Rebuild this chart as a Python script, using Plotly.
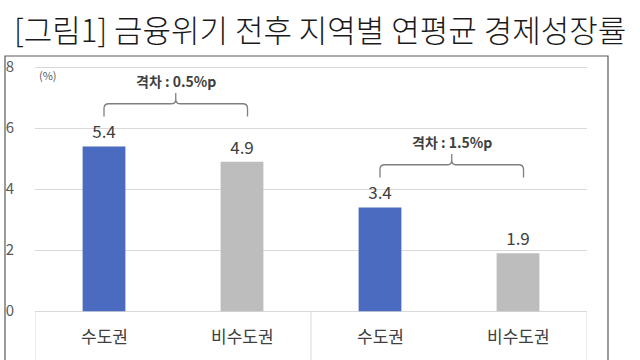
import plotly.graph_objects as go

# ---- data ----
categories = ["수도권", "비수도권", "수도권", "비수도권"]
values = [5.4, 4.9, 3.4, 1.9]
bar_colors = ["#4A6BBF", "#BDBDBD", "#4A6BBF", "#BDBDBD"]
gap_labels = ["격차 : 0.5%p", "격차 : 1.5%p"]
gap_pairs = [(0, 1), (2, 3)]
y_ticks = [0, 2, 4, 6, 8]
title_text = "[그림1] 금융위기 전후 지역별 연평균 경제성장률"
unit_text = "(%)"

FONT = "Noto Sans CJK KR, Noto Sans, sans-serif"
W, H = 640, 360
ML, MR, MT, MB = 35, 53, 58, 0
Y_RANGE = [-1.6, 8.3]
X_RANGE = [-0.5, 3.5]

def px_to_paper_x(px):
    return (px - ML) / (W - ML - MR)

def px_to_paper_y(py):
    return (H - MB - py) / (H - MT - MB)

xs = list(range(len(categories)))

fig = go.Figure()
fig.add_trace(go.Bar(
    x=xs, y=values, width=0.31,
    marker=dict(color=bar_colors, line=dict(width=0)),
    text=[f"{v:.1f}" for v in values], textposition="outside",
    textfont=dict(family=FONT, size=17, color="#404040"),
    cliponaxis=False, hoverinfo="skip",
))

shapes = []
# table lines below the zero line
for xv in [-0.5, 1.5, 3.5]:
    shapes.append(dict(type="line", xref="x", yref="y", x0=xv, x1=xv, y0=Y_RANGE[0], y1=0,
                       line=dict(color="#D9D9D9", width=1)))
# outer border box
shapes.append(dict(type="rect", xref="paper", yref="paper",
                   x0=px_to_paper_x(5), x1=px_to_paper_x(608),
                   y0=px_to_paper_y(375), y1=px_to_paper_y(56),
                   line=dict(color="#595959", width=1.2), fillcolor="rgba(0,0,0,0)", layer="above"))

annotations = []
# brackets with gap labels
rx, ry = 0.035, 0.15
for (i, j), lab in zip(gap_pairs, gap_labels):
    top_v = max(values[i], values[j])
    L, R = i, j + 0.04
    C = (L + R) / 2
    bot, h, tp = top_v + 0.98, top_v + 1.4, top_v + 1.75
    path = (f"M {L},{bot} L {L},{h-ry} Q {L},{h} {L+rx},{h} L {C-rx},{h} Q {C},{h} {C},{h+ry} L {C},{tp} "
            f"M {C},{h+ry} Q {C},{h} {C+rx},{h} L {R-rx},{h} Q {R},{h} {R},{h-ry} L {R},{bot}")
    shapes.append(dict(type="path", xref="x", yref="y", path=path,
                       line=dict(color="#7F7F7F", width=1.3)))
    annotations.append(dict(x=C, y=top_v + 2.15, xref="x", yref="y", text=f"<b>{lab}</b>",
                            showarrow=False, font=dict(family=FONT, size=14, color="#404040")))

# category labels
for xv, c in zip(xs, categories):
    annotations.append(dict(x=xv, y=-0.8, xref="x", yref="y", text=c, showarrow=False,
                            font=dict(family=FONT, size=17, color="#404040")))

# unit label
annotations.append(dict(x=px_to_paper_x(37), y=7.75, xref="paper", yref="y", text=unit_text,
                        showarrow=False, xanchor="left",
                        font=dict(family=FONT, size=11, color="#595959")))

fig.update_layout(
    width=W, height=H,
    margin=dict(l=ML, r=MR, t=MT, b=MB, pad=0),
    paper_bgcolor="white", plot_bgcolor="white",
    showlegend=False,
    title=dict(text=title_text, xref="container", yref="container",
               x=14 / W, xanchor="left", y=1 - 31 / H, yanchor="middle",
               font=dict(family=FONT, size=31, color="#1a1a1a", weight=300)),
    xaxis=dict(range=X_RANGE, showticklabels=False, showgrid=False, zeroline=False,
               showline=False, ticks=""),
    yaxis=dict(range=Y_RANGE, tickvals=y_ticks, showgrid=True, gridcolor="#D9D9D9",
               gridwidth=1, zeroline=False, showline=False,
               ticks="outside", ticklen=17, tickcolor="rgba(0,0,0,0)",
               tickfont=dict(family=FONT, size=15, color="#595959")),
    shapes=shapes, annotations=annotations,
    bargap=0.69,
)

fig.write_html("out.html", config={"displayModeBar": False},
               post_script="document.body.style.margin='0';document.body.style.overflow='hidden';")
